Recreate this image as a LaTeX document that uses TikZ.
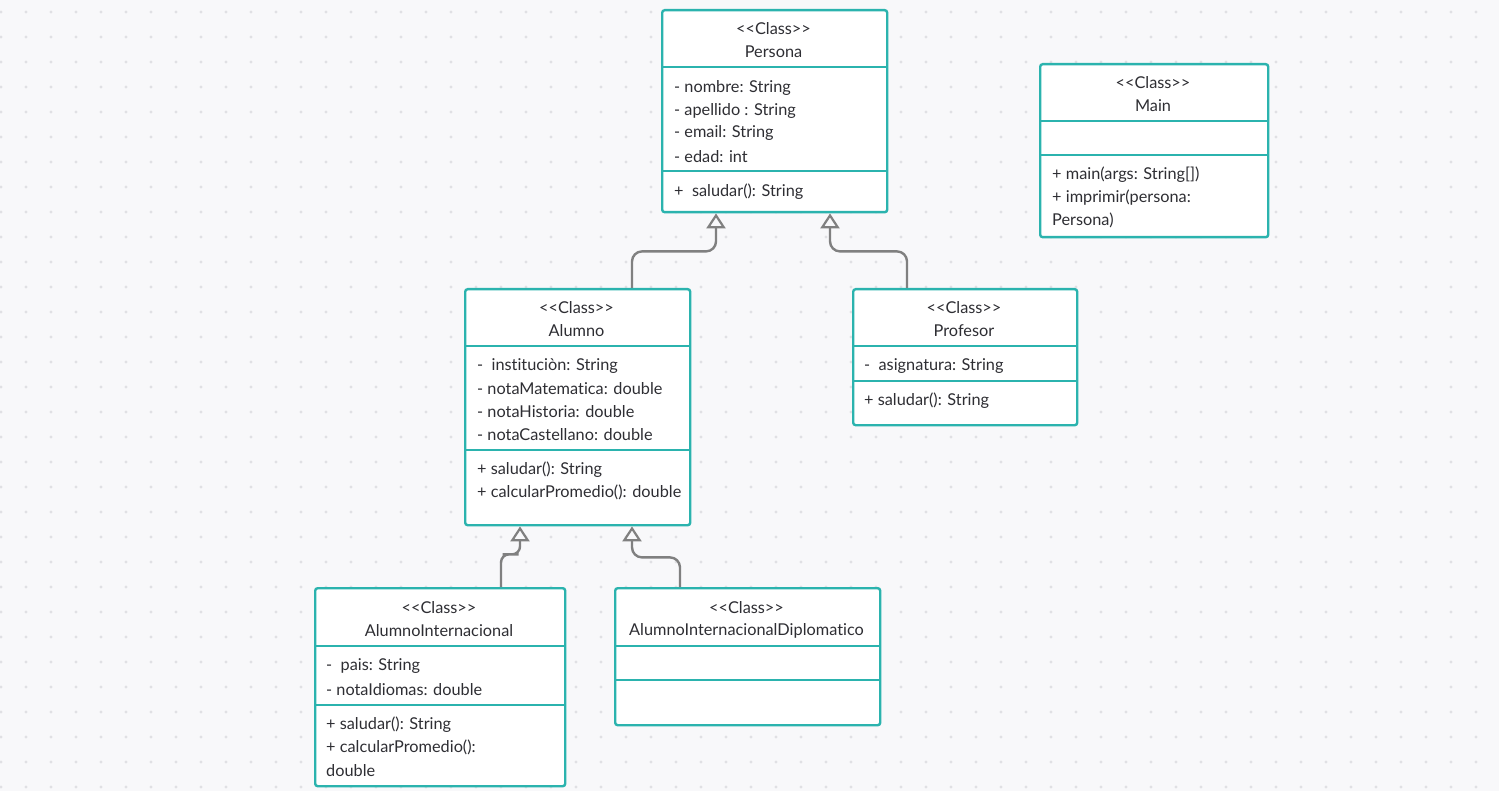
\documentclass[tikz,border=0pt]{standalone}
\usepackage{fontspec}
\setmainfont{Lato}[Ligatures={TeXOff,NoCommon}]
\usetikzlibrary{arrows.meta,calc}
\definecolor{bgpaper}{HTML}{F8F8FA}
\definecolor{griddot}{HTML}{E0E0E4}
\definecolor{umlteal}{HTML}{2BB3AE}
\definecolor{linkgray}{HTML}{808080}
\definecolor{txt}{HTML}{2E2E33}
\tikzset{
  classbox/.style={draw=umlteal, line width=2.4pt, fill=white, rounded corners=2.5pt,
    anchor=north west, inner sep=0pt},
  divider/.style={draw=umlteal, line width=2.4pt},
  headtext/.style={font=\fontsize{16.3}{19}\selectfont, text=txt, inner sep=0pt,
    anchor=center, yshift=-1.5pt},
  membertext/.style={font=\fontsize{16.3}{19}\selectfont, text=txt, inner sep=0pt,
    anchor=west, yshift=-1.5pt},
  inherit/.style={draw=linkgray, line width=2.4pt, rounded corners=10pt,
    -{Triangle[open, length=15pt, width=19pt, line width=2.2pt, fill=bgpaper]}},
}
\begin{document}
\begin{tikzpicture}[x=1pt, y=-1pt]
  % paper and dotted grid
  \fill[bgpaper] (0,0) rectangle (1499,791);
  \useasboundingbox (0,0) rectangle (1499,791);
  \foreach \gx in {1,26,...,1499} {
    \foreach \gy in {12,37,...,791} {
      \fill[griddot] (\gx,\gy) circle (1.6);
    }
  }

  % ---------- Persona ----------
  \node[classbox, minimum width=225pt, minimum height=202pt] (persona) at (661,9) {};
  \draw[divider] (661,67) -- (886,67);
  \draw[divider] (661,171) -- (886,171);
  \node[headtext] (personaS) at (773.5,27) {<<Class>>};
  \node[headtext] (personaN) at (773.5,50) {Persona};
  \node[membertext] (personaA1) at (674,86) {- nombre: String};
  \node[membertext] (personaA2) at (674,109) {- apellido : String};
  \node[membertext] (personaA3) at (674,131) {- email: String};
  \node[membertext] (personaA4) at (674,155) {- edad: int};
  \node[membertext] (personaM1) at (674,190) {+\ \ saludar(): String};

  % ---------- Main ----------
  \node[classbox, minimum width=228pt, minimum height=173pt] (main) at (1039,63) {};
  \draw[divider] (1039,121) -- (1267,121);
  \draw[divider] (1039,155) -- (1267,155);
  \node[headtext] (mainS) at (1153,81) {<<Class>>};
  \node[headtext] (mainN) at (1153,104) {Main};
  \node[membertext] (mainM1) at (1052,173) {+ main(args: String[])};
  \node[membertext] (mainM2) at (1052,196) {+ imprimir(persona:};
  \node[membertext] (mainM3) at (1052,219) {Persona)};

  % ---------- Alumno ----------
  \node[classbox, minimum width=225pt, minimum height=236pt] (alumno) at (464,288) {};
  \draw[divider] (464,346) -- (689,346);
  \draw[divider] (464,450) -- (689,450);
  \node[headtext] (alumnoS) at (576.5,306) {<<Class>>};
  \node[headtext] (alumnoN) at (576.5,329) {Alumno};
  \node[membertext] (alumnoA1) at (477,365) {-\ \ instituciòn: String};
  \node[membertext] (alumnoA2) at (477,387) {- notaMatematica: double};
  \node[membertext] (alumnoA3) at (477,410) {- notaHistoria: double};
  \node[membertext] (alumnoA4) at (477,433) {- notaCastellano: double};
  \node[membertext] (alumnoM1) at (477,468) {+ saludar(): String};
  \node[membertext] (alumnoM2) at (477,491) {+ calcularPromedio(): double};

  % ---------- Profesor ----------
  \node[classbox, minimum width=224pt, minimum height=136pt] (profesor) at (852,288) {};
  \draw[divider] (852,346) -- (1076,346);
  \draw[divider] (852,381) -- (1076,381);
  \node[headtext] (profesorS) at (964,306) {<<Class>>};
  \node[headtext] (profesorN) at (964,329) {Profesor};
  \node[membertext] (profesorA1) at (864,365) {-\ \ asignatura: String};
  \node[membertext] (profesorM1) at (864,399) {+ saludar(): String};

  % ---------- AlumnoInternacional ----------
  \node[classbox, minimum width=250pt, minimum height=198pt] (alint) at (314,587) {};
  \draw[divider] (314,646) -- (564,646);
  \draw[divider] (314,705) -- (564,705);
  \node[headtext] (alintS) at (439,606) {<<Class>>};
  \node[headtext] (alintN) at (439,629) {AlumnoInternacional};
  \node[membertext] (alintA1) at (326,665) {-\ \ pais: String};
  \node[membertext] (alintA2) at (326,688) {- notaIdiomas: double};
  \node[membertext] (alintM1) at (326,723) {+ saludar(): String};
  \node[membertext] (alintM2) at (326,746) {+ calcularPromedio():};
  \node[membertext] (alintM3) at (326,769) {double};

  % ---------- AlumnoInternacionalDiplomatico ----------
  \node[classbox, minimum width=265pt, minimum height=137pt] (aldip) at (614,587) {};
  \draw[divider] (614,646) -- (879,646);
  \draw[divider] (614,680) -- (879,680);
  \node[headtext] (aldipS) at (746.5,606) {<<Class>>};
  \node[headtext] (aldipN) at (746.5,629) {AlumnoInternacionalDiplomatico};

  % ---------- inheritance links ----------
  \coordinate (alumnoUp) at ($(alumno.north west)+(168,0)$);
  \coordinate (personaL) at ($(persona.south west)+(55,0)$);
  \coordinate (profesorUp) at ($(profesor.north west)+(55,0)$);
  \coordinate (personaR) at ($(persona.south west)+(169,0)$);
  \coordinate (alintUp) at ($(alint.north west)+(187,0)$);
  \coordinate (alumnoL) at ($(alumno.south west)+(56,0)$);
  \coordinate (aldipUp) at ($(aldip.north west)+(66,0)$);
  \coordinate (alumnoR) at ($(alumno.south west)+(168,0)$);

  \draw[inherit] (alumnoUp) |- ($(personaL)+(0,38)$) -- (personaL);
  \draw[inherit] (profesorUp) |- ($(personaR)+(0,38)$) -- (personaR);
  \draw[inherit, rounded corners=8pt] (alintUp) |- ($(alumnoL)+(-9.5,28)$) -| (alumnoL);
  \draw[inherit] (aldipUp) |- ($(alumnoR)+(0,31)$) -- (alumnoR);
\end{tikzpicture}
\end{document}
